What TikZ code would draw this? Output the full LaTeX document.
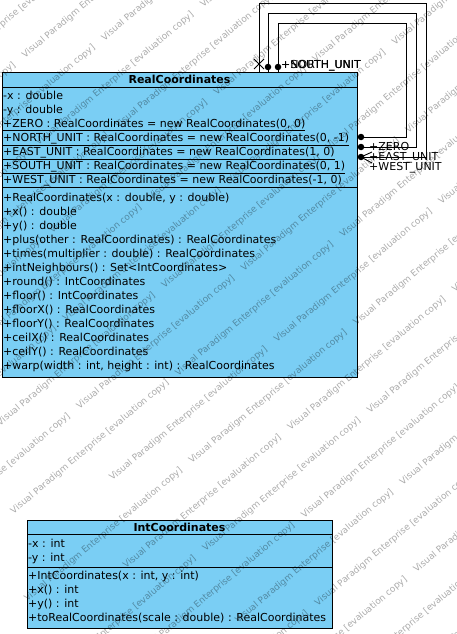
\documentclass[tikz,border=0pt]{standalone}
\usepackage{fontspec}
\setmainfont{DejaVu Sans}
\definecolor{cfill}{RGB}{122,206,244}
\newcommand{\wmone}{Visual Paradigm Enterprise [evaluation copy]\quad\ }
\newcommand{\wmtext}{\wmone\wmone\wmone\wmone\wmone}
\begin{document}
\begin{tikzpicture}[x=1pt,y=-1pt,
  font=\fontsize{11pt}{14pt}\selectfont,
  classbox/.style={draw=black, fill=cfill, line width=1pt, inner sep=0pt, anchor=north west},
  sepline/.style={draw=black, line width=1pt},
  member/.style={anchor=base west, inner sep=0pt},
  ctitle/.style={anchor=base, inner sep=0pt, font=\fontsize{11pt}{14pt}\selectfont\bfseries},
  assoc/.style={draw=black, line width=0.9pt},
  enddot/.style={circle, fill=black, draw=none, inner sep=0pt, minimum size=6.5pt},
  role/.style={anchor=base west, inner sep=0pt},
  wmark/.style={anchor=base west, inner sep=0pt, rotate=40, text=black, text opacity=0.33,
    font=\fontsize{9pt}{11pt}\selectfont}]
\useasboundingbox (0,0) rectangle (456,634);
\fill[white] (0,0) rectangle (456,634);

% RealCoordinates
\node[classbox, minimum width=355pt, minimum height=305pt] (rc) at (2,72) {};
\draw[sepline] (rc.west |- 0,87) -- (rc.east |- 0,87);
\draw[sepline] (rc.west |- 0,187) -- (rc.east |- 0,187);
\node[ctitle] (rct) at (179.5,83.5) {RealCoordinates};
\foreach \t [count=\i from 0] in {
  {-x : double},
  {-y : double},
  {\underline{+ZERO : RealCoordinates = new RealCoordinates(0, 0)}},
  {\underline{+NORTH\_UNIT : RealCoordinates = new RealCoordinates(0, -1)}},
  {\underline{+EAST\_UNIT : RealCoordinates = new RealCoordinates(1, 0)}},
  {\underline{+SOUTH\_UNIT : RealCoordinates = new RealCoordinates(0, 1)}},
  {\underline{+WEST\_UNIT : RealCoordinates = new RealCoordinates(-1, 0)}}}
  \node[member] (rca\i) at (3,{99+14*\i}) {\t};
\foreach \t [count=\i from 0] in {
  {+RealCoordinates(x : double, y : double)},
  {+x() : double},
  {+y() : double},
  {+plus(other : RealCoordinates) : RealCoordinates},
  {+times(multiplier : double) : RealCoordinates},
  {+intNeighbours() : Set<IntCoordinates>},
  {+round() : IntCoordinates},
  {+floor() : IntCoordinates},
  {+floorX() : RealCoordinates},
  {+floorY() : RealCoordinates},
  {+ceilX() : RealCoordinates},
  {+ceilY() : RealCoordinates},
  {+warp(width : int, height : int) : RealCoordinates}}
  \node[member] (rco\i) at (3,{201+14*\i}) {\t};

% IntCoordinates
\node[classbox, minimum width=305pt, minimum height=108pt] (ic) at (27,520) {};
\draw[sepline] (ic.west |- 0,534) -- (ic.east |- 0,534);
\draw[sepline] (ic.west |- 0,567) -- (ic.east |- 0,567);
\node[ctitle] (ict) at (179.5,531.5) {IntCoordinates};
\node[member] (ica0) at (28,547) {-x : int};
\node[member] (ica1) at (28,561) {-y : int};
\node[member] (ico0) at (28,579) {+IntCoordinates(x : int, y : int)};
\node[member] (ico1) at (28,593) {+x() : int};
\node[member] (ico2) at (28,607) {+y() : int};
\node[member] (ico3) at (28,621) {+toRealCoordinates(scale : double) : RealCoordinates};

% self associations
\coordinate (t1) at (rc.north -| 278,0);
\coordinate (t2) at (rc.north -| 268,0);
\coordinate (t3) at (rc.north -| 259,0);
\coordinate (r1) at (rc.east |- 0,137);
\coordinate (r2) at (rc.east |- 0,147);
\coordinate (r3) at (rc.east |- 0,157);
\draw[assoc] (t1) -- (278,23) -- (406,23) -- (406,137) -- (r1);
\draw[assoc] (t2) -- (268,13) -- (416,13) -- (416,147) -- (r2);
\draw[assoc] (t3) -- (259,3) -- (426,3) -- (426,157) -- (r3);
\node[enddot] (d1) at (278,67) {};
\node[enddot] (d2) at (268,67) {};
\node[enddot] (d3) at (361,137) {};
\node[enddot] (d4) at (361,147) {};
\node[enddot] (d5) at (361,157) {};
\draw[assoc] (254,59) -- (264,69) (254,69) -- (264,59);
\draw[assoc] (372,152) -- (d5.center) -- (372,163);

\node[role] (lsouth) at (281,68) {+SOUTH\_UNIT};
\node[role] (lnorth) at (281,68) {+NORTH\_UNIT};
\node[role] (lzero) at (369,150) {+ZERO};
\node[role] (least) at (369,160) {+EAST\_UNIT};
\node[role] (lwest) at (369,170) {+WEST\_UNIT};

% watermark
\begin{scope}
\clip (0,0) rectangle (456,634);
\foreach \r in {0,...,22}
  \node[wmark] (wm\r) at ({(-440+mod(\r*97,240))*cos(40)+\r*38*sin(40)},
                          {-20-(-440+mod(\r*97,240))*sin(40)+\r*38*cos(40)}) {\wmtext};
\end{scope}
\end{tikzpicture}
\end{document}
